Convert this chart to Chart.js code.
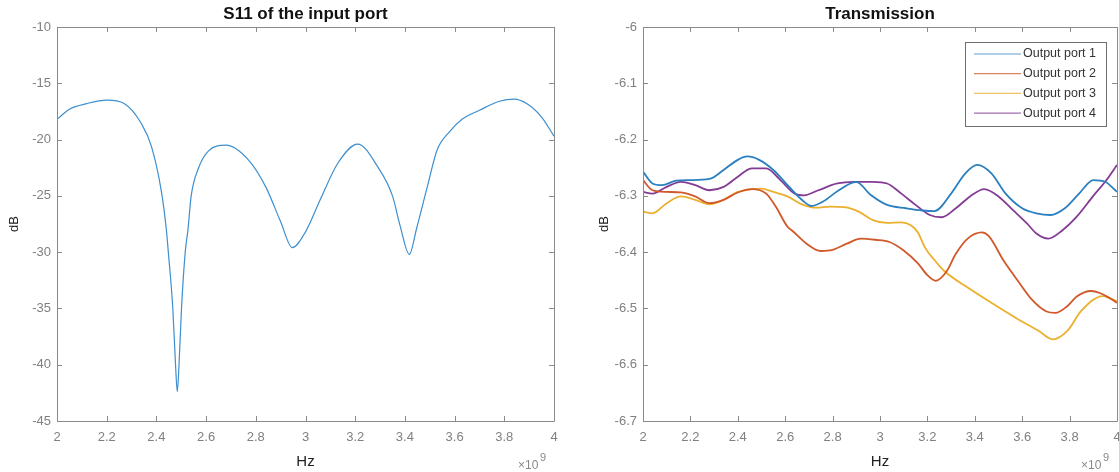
<!DOCTYPE html>
<html lang="en">
<head>
<meta charset="UTF-8">
<title>S11 | Transmission</title>
<script src="https://cdn.jsdelivr.net/npm/chart.js"></script>
<style>
    body { margin: 0; background: #fff; }
    .janela { position: relative; width: 1119px; height: 472px; }
    .grafico { position: absolute; top: 0; height: 472px; }
    #g1 { left: 0; width: 560px; }
    #g2 { left: 560px; width: 559px; }
</style>
</head>
<body>
<div class="janela">
    <div class="grafico" id="g1"><canvas id="chartS11" width="560" height="472"></canvas></div>
    <div class="grafico" id="g2"><canvas id="chartTrans" width="559" height="472"></canvas></div>
</div>

<script>
// frequencias em GHz (eixo mostra x10^9)
const xTicks = [2, 2.2, 2.4, 2.6, 2.8, 3, 3.2, 3.4, 3.6, 3.8, 4];
const xTickLabels = ['2', '2.2', '2.4', '2.6', '2.8', '3', '3.2', '3.4', '3.6', '3.8', '4'];

const s11Ticks = [-10, -15, -20, -25, -30, -35, -40, -45];
const s11TickLabels = ['-10', '-15', '-20', '-25', '-30', '-35', '-40', '-45'];
const transTicks = [-6, -6.1, -6.2, -6.3, -6.4, -6.5, -6.6, -6.7];
const transTickLabels = ['-6', '-6.1', '-6.2', '-6.3', '-6.4', '-6.5', '-6.6', '-6.7'];

// S11 da porta de entrada
const s11Freq = [2.00, 2.05, 2.12, 2.20, 2.27, 2.34, 2.38, 2.42, 2.44, 2.448, 2.466, 2.477, 2.484,
    2.491, 2.501, 2.516, 2.527, 2.54, 2.57, 2.61, 2.68, 2.77, 2.84, 2.90, 2.947, 3.00, 3.06, 3.13,
    3.21, 3.29, 3.35, 3.38, 3.418, 3.447, 3.49, 3.53, 3.58, 3.63, 3.70, 3.78, 3.84, 3.89, 3.95, 4.00];
const s11Db = [-18.2, -17.3, -16.8, -16.5, -16.8, -18.6, -20.6, -24.6, -28.0, -30.0, -35.0, -40.0, -42.4,
    -40.0, -35.0, -30.0, -28.0, -25.0, -22.5, -21.0, -20.5, -21.8, -24.2, -27.3, -29.6, -28.2, -25.3, -22.1,
    -20.4, -22.4, -25.0, -27.6, -30.2, -27.9, -24.2, -20.9, -19.3, -18.2, -17.4, -16.6, -16.4, -16.8, -18.0, -19.7];

// transmissao - porta 1
const port1Freq = [2.00, 2.04, 2.08, 2.14, 2.20, 2.28, 2.34, 2.40, 2.44, 2.49, 2.55, 2.61, 2.67, 2.71,
    2.76, 2.82, 2.90, 2.96, 3.03, 3.11, 3.18, 3.23, 3.30, 3.36, 3.41, 3.47, 3.53, 3.60, 3.66, 3.72,
    3.78, 3.84, 3.90, 3.95, 4.00];
const port1Db = [-6.257, -6.278, -6.281, -6.273, -6.272, -6.270, -6.254, -6.236, -6.230, -6.236, -6.254,
    -6.281, -6.307, -6.318, -6.310, -6.292, -6.275, -6.298, -6.316, -6.322, -6.326, -6.327, -6.296, -6.260,
    -6.245, -6.260, -6.296, -6.322, -6.331, -6.334, -6.322, -6.296, -6.272, -6.275, -6.293];

// porta 2
const port2Freq = [2.00, 2.04, 2.10, 2.16, 2.22, 2.28, 2.34, 2.40, 2.46, 2.52, 2.56, 2.61, 2.63, 2.69,
    2.75, 2.80, 2.86, 2.92, 2.98, 3.04, 3.10, 3.16, 3.20, 3.235, 3.28, 3.32, 3.37, 3.43, 3.46, 3.52,
    3.58, 3.64, 3.70, 3.74, 3.79, 3.83, 3.89, 3.93, 3.97, 4.00];
const port2Db = [-6.272, -6.290, -6.293, -6.294, -6.301, -6.313, -6.307, -6.294, -6.288, -6.296, -6.319,
    -6.355, -6.362, -6.385, -6.398, -6.396, -6.385, -6.376, -6.378, -6.382, -6.397, -6.420, -6.441, -6.451,
    -6.435, -6.403, -6.376, -6.365, -6.372, -6.414, -6.450, -6.484, -6.505, -6.508, -6.496, -6.479, -6.469,
    -6.473, -6.482, -6.490];

// porta 3
const port3Freq = [2.00, 2.04, 2.10, 2.16, 2.22, 2.28, 2.34, 2.40, 2.46, 2.50, 2.55, 2.61, 2.67, 2.73,
    2.79, 2.85, 2.91, 2.97, 3.03, 3.09, 3.13, 3.16, 3.19, 3.23, 3.27, 3.37, 3.47, 3.57, 3.67, 3.73,
    3.79, 3.85, 3.94, 4.00];
const port3Db = [-6.328, -6.331, -6.313, -6.301, -6.307, -6.315, -6.307, -6.293, -6.288, -6.287, -6.293,
    -6.301, -6.315, -6.321, -6.319, -6.320, -6.328, -6.343, -6.348, -6.347, -6.352, -6.365, -6.392, -6.414,
    -6.433, -6.463, -6.490, -6.516, -6.540, -6.555, -6.540, -6.504, -6.478, -6.487];

// porta 4
const port4Freq = [2.00, 2.04, 2.10, 2.16, 2.22, 2.28, 2.34, 2.40, 2.46, 2.52, 2.58, 2.64, 2.68, 2.74,
    2.82, 2.89, 2.97, 3.03, 3.09, 3.15, 3.21, 3.26, 3.32, 3.38, 3.44, 3.50, 3.56, 3.62, 3.66, 3.71,
    3.77, 3.83, 3.90, 3.95, 4.00];
const port4Db = [-6.293, -6.296, -6.284, -6.275, -6.281, -6.290, -6.284, -6.266, -6.251, -6.251, -6.272,
    -6.296, -6.299, -6.290, -6.278, -6.275, -6.275, -6.278, -6.296, -6.316, -6.334, -6.338, -6.322, -6.301,
    -6.288, -6.301, -6.325, -6.349, -6.367, -6.376, -6.361, -6.337, -6.300, -6.275, -6.245];

const nomesPortas = ['Output port 1', 'Output port 2', 'Output port 3', 'Output port 4'];
const coresPortas = ['#2a7fc0', '#d1582a', '#ebb02e', '#843b94'];

const fonte = '"Liberation Sans", Arial, sans-serif';

function pontos(freq, valores) {
    return freq.map(function (f, i) { return { x: f, y: valores[i] }; });
}

// caixa estilo matlab: borda, ticks para dentro, titulo, x10^9 e legenda
const caixaMatlab = {
    id: 'caixaMatlab',
    afterDraw(chart, args, opts) {
        const ctx = chart.ctx;
        const a = chart.chartArea;
        const sx = chart.scales.x;
        const sy = chart.scales.y;
        const tam = 5;
        ctx.save();
        ctx.strokeStyle = '#8a8a8a';
        ctx.lineWidth = 1;
        ctx.beginPath();
        ctx.rect(Math.round(a.left) + 0.5, Math.round(a.top) + 0.5, Math.round(a.right - a.left), Math.round(a.bottom - a.top));
        sx.ticks.forEach(function (t) {
            const px = Math.round(sx.getPixelForValue(t.value)) + 0.5;
            ctx.moveTo(px, a.bottom); ctx.lineTo(px, a.bottom - tam);
            ctx.moveTo(px, a.top); ctx.lineTo(px, a.top + tam);
        });
        sy.ticks.forEach(function (t) {
            const py = Math.round(sy.getPixelForValue(t.value)) + 0.5;
            ctx.moveTo(a.left, py); ctx.lineTo(a.left + tam, py);
            ctx.moveTo(a.right, py); ctx.lineTo(a.right - tam, py);
        });
        ctx.stroke();

        // titulo
        ctx.fillStyle = '#111';
        ctx.font = 'bold 17px ' + fonte;
        ctx.textAlign = 'center';
        ctx.textBaseline = 'middle';
        ctx.fillText(opts.titulo, (a.left + a.right) / 2, 14);

        // x10^9
        ctx.fillStyle = '#888';
        ctx.textAlign = 'left';
        ctx.font = '12px ' + fonte;
        const ex = a.right - 36;
        ctx.fillText('\u00d710', ex, 466);
        ctx.font = '11px ' + fonte;
        ctx.fillText('9', ex + 22, 458);

        // legenda
        if (opts.legenda) {
            const bx = Math.round(a.right) - 152, by = Math.round(a.top) + 15, bw = 141, bh = 84;
            ctx.fillStyle = '#fff';
            ctx.fillRect(bx, by, bw, bh);
            ctx.strokeStyle = '#6e6e6e';
            ctx.strokeRect(bx + 0.5, by + 0.5, bw, bh);
            ctx.font = '12.5px ' + fonte;
            chart.data.datasets.forEach(function (ds, i) {
                const ly = by + 12 + i * 19.7;
                ctx.strokeStyle = ds.borderColor;
                ctx.globalAlpha = 0.75;
                ctx.lineWidth = 1.2;
                ctx.beginPath();
                ctx.moveTo(bx + 9, ly); ctx.lineTo(bx + 56, ly);
                ctx.stroke();
                ctx.globalAlpha = 1;
                ctx.fillStyle = '#333';
                ctx.fillText(ds.label, bx + 58, ly);
            });
        }
        ctx.restore();
    }
};

function eixoX() {
    return {
        type: 'linear', min: 2, max: 4,
        afterBuildTicks: function (eixo) { eixo.ticks = xTicks.map(function (v) { return { value: v }; }); },
        afterFit: function (eixo) { eixo.height = 51; eixo.paddingLeft = 0; eixo.paddingRight = 0; },
        ticks: {
            color: '#808080', padding: 9, maxRotation: 0, autoSkip: false,
            font: { size: 13, family: fonte },
            callback: function (v, i) { return xTickLabels[i]; }
        },
        grid: { display: false, drawTicks: false },
        border: { display: false },
        title: { display: true, text: 'Hz', color: '#222', padding: { top: 0, bottom: 1 },
            font: { size: 15, family: fonte } }
    };
}

function eixoY(min, max, valores, rotulos, largura, padTitulo) {
    return {
        type: 'linear', min: min, max: max,
        afterBuildTicks: function (eixo) { eixo.ticks = valores.map(function (v) { return { value: v }; }); },
        afterFit: function (eixo) { eixo.width = largura; },
        ticks: {
            color: '#808080', padding: 6, autoSkip: false,
            font: { size: 13, family: fonte },
            callback: function (v, i) { return rotulos[i]; }
        },
        grid: { display: false, drawTicks: false },
        border: { display: false },
        title: { display: true, text: 'dB', color: '#222', padding: { top: padTitulo, bottom: 0 },
            font: { size: 13, family: fonte } }
    };
}

// grafico 1 - S11
new Chart(document.getElementById('chartS11'), {
    type: 'line',
    data: {
        datasets: [{
            label: 'S11',
            data: pontos(s11Freq, s11Db),
            borderColor: '#3d8fcf',
            borderWidth: 1.2,
            pointRadius: 0,
            fill: false,
            cubicInterpolationMode: 'monotone'
        }]
    },
    options: {
        responsive: false,
        animation: false,
        layout: { padding: { top: 27, right: 6, left: 0, bottom: 0 } },
        plugins: {
            legend: { display: false },
            tooltip: { enabled: false },
            caixaMatlab: { titulo: 'S11 of the input port', legenda: false }
        },
        scales: {
            x: eixoX(),
            y: eixoY(-45, -10, s11Ticks, s11TickLabels, 57, 7)
        }
    },
    plugins: [caixaMatlab]
});

// grafico 2 - transmissao
const seriesPortas = [
    pontos(port1Freq, port1Db),
    pontos(port2Freq, port2Db),
    pontos(port3Freq, port3Db),
    pontos(port4Freq, port4Db)
];

new Chart(document.getElementById('chartTrans'), {
    type: 'line',
    data: {
        datasets: seriesPortas.map(function (serie, i) {
            return {
                label: nomesPortas[i],
                data: serie,
                borderColor: coresPortas[i],
                borderWidth: 1.8,
                pointRadius: 0,
                fill: false,
                cubicInterpolationMode: 'monotone'
            };
        })
    },
    options: {
        responsive: false,
        animation: false,
        layout: { padding: { top: 27, right: 2, left: 0, bottom: 0 } },
        plugins: {
            legend: { display: false },
            tooltip: { enabled: false },
            caixaMatlab: { titulo: 'Transmission', legenda: true }
        },
        scales: {
            x: eixoX(),
            y: eixoY(-6.7, -6, transTicks, transTickLabels, 83, 37)
        }
    },
    plugins: [caixaMatlab]
});
</script>
</body>
</html>
